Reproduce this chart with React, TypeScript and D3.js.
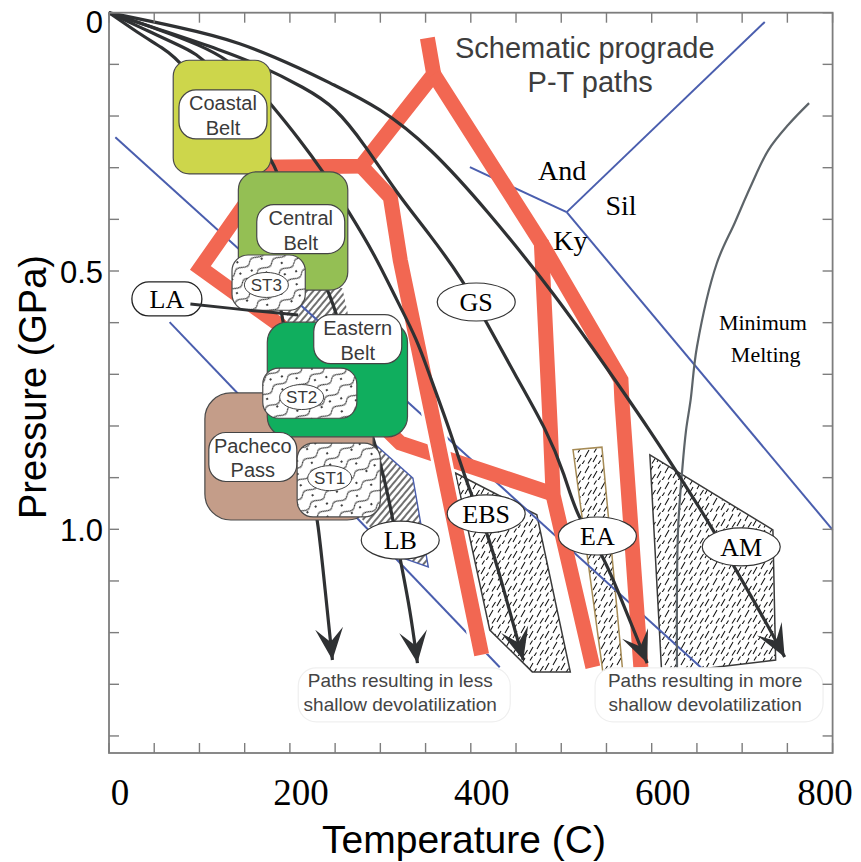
import React, { useEffect, useRef } from 'react';
import * as d3 from 'd3';

type Pt = [number, number]; // [temperature C, pressure GPa]

// axes
const tempTicks = [0, 50, 100, 150, 200, 250, 300, 350, 400, 450, 500, 550, 600, 650, 700, 750, 800];
const tempLabels = [0, 200, 400, 600, 800];
const presTicks = [0, 0.1, 0.2, 0.3, 0.4, 0.5, 0.6, 0.7, 0.8, 0.9, 1.0, 1.1, 1.2, 1.3, 1.4];
const presLabelValues = [0, 0.5, 1.0];
const presLabelText = ['0', '0.5', '1.0'];
const presMax = 1.433;

// geotherms, coldest to hottest (each ends in an arrow)
const geothermZ: Pt[] = [[0, 0], [32, 0.039], [59, 0.068], [81, 0.095], [134, 0.227], [165, 0.31], [178, 0.459], [190, 0.576], [193, 0.601], [211, 0.788], [224, 0.924], [231, 0.982], [239, 1.118], [247, 1.253]];
const geothermA: Pt[] = [[0, 0], [45, 0.037], [84, 0.068], [109, 0.092], [145, 0.188], [180, 0.285], [186, 0.308], [211, 0.421], [244, 0.543], [253, 0.591], [272, 0.711], [292, 0.821], [305, 0.905], [314, 0.982], [322, 1.059], [333, 1.156], [341, 1.259]];
const geothermB: Pt[] = [[0, 0], [56, 0.033], [101, 0.063], [132, 0.092], [156, 0.13], [179, 0.177], [211, 0.246], [237, 0.308], [264, 0.382], [294, 0.469], [318, 0.556], [341, 0.634], [355, 0.705], [377, 0.808], [399, 0.93], [419, 1.007], [438, 1.127], [458, 1.253]];
const geothermC: Pt[] = [[0, 0], [67, 0.039], [123, 0.072], [165, 0.1], [217, 0.146], [250, 0.182], [283, 0.256], [318, 0.349], [355, 0.43], [391, 0.517], [416, 0.595], [449, 0.701], [484, 0.808], [504, 0.895], [517, 0.976], [546, 1.046], [570, 1.152], [595, 1.259]];
const geothermD: Pt[] = [[0, 0], [78, 0.028], [143, 0.055], [217, 0.112], [244, 0.136], [300, 0.184], [355, 0.26], [418, 0.382], [495, 0.55], [548, 0.682], [598, 0.808], [642, 0.928], [668, 1.001], [690, 1.069], [720, 1.16], [747, 1.247]];

// schematic prograde P-T paths (red)
const redPath1: Pt[] = [[352, 0.049], [359, 0.119], [279, 0.297], [169, 0.299], [150, 0.372], [101, 0.494], [189, 0.605], [322, 0.833], [488, 0.93]];
const redPath2: Pt[] = [[279, 0.297], [311, 0.357], [322, 0.479], [412, 1.243]];
const redPath3: Pt[] = [[359, 0.119], [478, 0.446], [488, 0.808], [491, 0.934], [535, 1.267]];
const redPath4: Pt[] = [[478, 0.446], [566, 0.711], [567, 0.75], [588, 1.267]];

// blue reaction lines
const blueUpper: Pt[] = [[7, 0.241], [656, 1.27]];
const blueLower: Pt[] = [[67, 0.599], [432, 1.267]];
const andKy: Pt[] = [[399, 0.299], [506, 0.386]];
const andSil: Pt[] = [[506, 0.386], [725, 0.018]];
const kySil: Pt[] = [[506, 0.386], [800, 1.001]];

// minimum melting curve
const meltCurve: Pt[] = [[774, 0.175], [751, 0.217], [729, 0.266], [709, 0.338], [692, 0.406], [672, 0.485], [650, 0.647], [643, 0.75], [638, 0.808], [634, 0.88], [629, 1.007], [628, 1.276]];

// hatched facies fields
const lbField: Pt[] = [[195, 0.533], [258, 0.533], [295, 0.837], [336, 0.901], [344, 0.982], [353, 1.073], [322, 1.054], [272, 0.967], [206, 0.847]];
const lbOutline: Pt[] = [[295, 0.837], [336, 0.901], [344, 0.982], [353, 1.073], [322, 1.054]];
const ebsField: Pt[] = [[383, 0.891], [473, 0.972], [510, 1.276], [468, 1.276], [421, 1.195], [397, 1.001]];
const eaField: Pt[] = [[513, 0.846], [545, 0.841], [568, 1.276], [546, 1.276]];
const amField: Pt[] = [[598, 0.856], [734, 1.001], [737, 1.253], [661, 1.269], [611, 1.276]];

const fieldLabels = ['GS', 'LB', 'EBS', 'EA', 'AM'];
const fieldLabelPos: Pt[] = [[406, 0.56], [322, 1.021], [417, 0.97], [540, 1.013], [699, 1.034]];
const laPos: Pt = [64, 0.554];
const laLink: Pt[] = [[90, 0.564], [167, 0.578], [209, 0.585]];

// belts: [Tmin, Pmin, Tmax, Pmax]
const beltNames = [['Coastal', 'Belt'], ['Central', 'Belt'], ['Eastern', 'Belt'], ['Pacheco', 'Pass']];
const beltExtents = [[71, 0.092, 179, 0.312], [143, 0.308, 264, 0.537], [175, 0.599, 330, 0.821], [106, 0.736, 292, 0.982]];
const beltColors = ['#cdd64b', '#94bf54', '#10ae5e', '#c49d89'];
const beltRadius = [16, 18, 20, 26];
const beltLabelPos: Pt[] = [[126, 0.197], [212, 0.419], [275, 0.632], [159, 0.86]];

const stNames = ['ST3', 'ST2', 'ST1'];
const stExtents = [[136, 0.469, 217, 0.576], [170, 0.688, 274, 0.785], [208, 0.833, 300, 0.976]];
const stLabelPos: Pt[] = [[174, 0.527], [213, 0.744], [244, 0.901]];

// annotations
const titleLines = ['Schematic prograde', 'P-T paths'];
const titlePos: Pt[] = [[526, 0.088], [532, 0.154]];
const phaseNames = ['And', 'Sil', 'Ky'];
const phasePos: Pt[] = [[501, 0.324], [566, 0.392], [510, 0.459]];
const meltLines = ['Minimum', 'Melting'];
const meltPos: Pt[] = [[723, 0.614], [726, 0.676]];
const noteLines = [['Paths resulting in less', 'shallow devolatilization'], ['Paths resulting in more', 'shallow devolatilization']];
const notePos: Pt[] = [[322, 1.305], [659, 1.305]];
const noteWidths = [212, 228];

export default function App() {
  const ref = useRef<SVGSVGElement>(null);

  useEffect(() => {
    const svg = d3.select(ref.current);
    svg.selectAll('*').remove();

    const x = d3.scaleLinear().domain([0, 800]).range([109, 832.6]);
    const y = d3.scaleLinear().domain([0, presMax]).range([12.7, 753]);
    const line = d3.line<Pt>().x(d => x(d[0])).y(d => y(d[1]));
    const smooth = d3.line<Pt>().x(d => x(d[0])).y(d => y(d[1])).curve(d3.curveCatmullRom.alpha(0.5));
    const spline = d3.line<Pt>().x(d => x(d[0])).y(d => y(d[1])).curve(d3.curveBasis);

    const sans = '"Liberation Sans", Arial, Helvetica, sans-serif';
    const serif = '"Liberation Serif", "Times New Roman", serif';
    const ink = '#2f3133';
    const red = '#f26752';
    const blue = '#4a5eae';

    const defs = svg.append('defs');

    // short dash texture for facies fields
    const dash = defs.append('pattern').attr('id', 'dashHatch').attr('patternUnits', 'userSpaceOnUse')
      .attr('width', 16).attr('height', 16);
    dash.append('rect').attr('width', 16).attr('height', 16).attr('fill', '#fff');
    dash.append('path').attr('d', 'M1,14L5,7M9,9L13,2M6,16.5L8.5,12.5M12,15.5L15.5,10M2,4.5L4.5,0.5')
      .attr('stroke', '#111').attr('stroke-width', 1.05).attr('fill', 'none');

    // straight diagonal lines
    const hatch = defs.append('pattern').attr('id', 'lineHatch').attr('patternUnits', 'userSpaceOnUse')
      .attr('width', 5).attr('height', 10).attr('patternTransform', 'rotate(40)');
    hatch.append('rect').attr('width', 5).attr('height', 10).attr('fill', '#fff');
    hatch.append('line').attr('x1', 2).attr('x2', 2).attr('y1', 0).attr('y2', 10)
      .attr('stroke', '#111').attr('stroke-width', 1.2);

    // wavy + dotted texture for ST boxes
    const wavy = defs.append('pattern').attr('id', 'stHatch').attr('patternUnits', 'userSpaceOnUse')
      .attr('width', 36).attr('height', 26).attr('patternTransform', 'rotate(-35)');
    wavy.append('rect').attr('width', 36).attr('height', 26).attr('fill', '#fff');
    wavy.append('path').attr('d', 'M0,7C6,0 12,14 18,7S30,14 36,7M0,20C6,13 12,27 18,20S30,27 36,20')
      .attr('stroke', '#111').attr('stroke-width', 1).attr('fill', 'none');
    [[8, 13], [26, 12], [15, 2], [30, 24], [4, 24]].forEach(([cx, cy]) =>
      wavy.append('circle').attr('cx', cx).attr('cy', cy).attr('r', 1.1).attr('fill', '#111'));

    defs.append('marker').attr('id', 'arrowHead').attr('viewBox', '-34 -16 36 32')
      .attr('refX', 0).attr('refY', 0).attr('markerWidth', 36).attr('markerHeight', 32)
      .attr('markerUnits', 'userSpaceOnUse').attr('orient', 'auto')
      .append('path').attr('d', 'M0,0L-32,-14L-18,0L-32,14Z').attr('fill', ink);

    defs.append('clipPath').attr('id', 'lowerClip').append('rect')
      .attr('x', 0).attr('y', y(0.7)).attr('width', 861).attr('height', 862);

    svg.append('rect').attr('width', 861).attr('height', 862).attr('fill', '#fff');

    // hatched fields
    svg.append('path').attr('d', `${line(lbField)}Z`).attr('fill', 'url(#lineHatch)');
    svg.append('path').attr('d', line(lbOutline)).attr('fill', 'none').attr('stroke', blue).attr('stroke-width', 1.4);
    svg.append('path').attr('d', `${line(ebsField)}Z`).attr('fill', 'url(#dashHatch)').attr('stroke', '#3a3a3a').attr('stroke-width', 1.5);
    svg.append('path').attr('d', `${line(eaField)}Z`).attr('fill', 'url(#dashHatch)').attr('stroke', '#a68b55').attr('stroke-width', 1.5);
    svg.append('path').attr('d', `${line(amField)}Z`).attr('fill', 'url(#dashHatch)').attr('stroke', '#3a3a3a').attr('stroke-width', 1.5);

    // blue lines
    [blueUpper, blueLower, andKy, andSil, kySil].forEach(l =>
      svg.append('path').attr('d', line(l)).attr('fill', 'none').attr('stroke', blue).attr('stroke-width', 2));

    svg.append('path').attr('d', smooth(meltCurve)).attr('fill', 'none').attr('stroke', '#5d6469').attr('stroke-width', 2.2);

    // red P-T paths
    [redPath1, redPath3, redPath4].forEach(p =>
      svg.append('path').attr('d', line(p)).attr('fill', 'none').attr('stroke', red)
        .attr('stroke-width', 15).attr('stroke-linejoin', 'miter'));
    svg.append('path').attr('d', line(redPath2)).attr('fill', 'none').attr('stroke', '#fff')
      .attr('stroke-width', 21).attr('clip-path', 'url(#lowerClip)');
    svg.append('path').attr('d', line(redPath2)).attr('fill', 'none').attr('stroke', red)
      .attr('stroke-width', 15).attr('stroke-linejoin', 'miter');

    // geotherms
    [geothermZ, geothermA, geothermB, geothermC, geothermD].forEach(g =>
      svg.append('path').attr('d', spline(g)).attr('fill', 'none').attr('stroke', ink)
        .attr('stroke-width', 3.2).attr('marker-end', 'url(#arrowHead)'));

    // belts and ST boxes
    const box = (ext: number[], fill: string, r: number) =>
      svg.append('rect').attr('x', x(ext[0])).attr('y', y(ext[1]))
        .attr('width', x(ext[2]) - x(ext[0])).attr('height', y(ext[3]) - y(ext[1]))
        .attr('rx', r).attr('fill', fill).attr('stroke', '#4a4a4a').attr('stroke-width', 1.2);

    const beltBox = (i: number) => box(beltExtents[i], beltColors[i], beltRadius[i]);
    const beltLabel = (i: number) => {
      const cx = x(beltLabelPos[i][0]);
      const cy = y(beltLabelPos[i][1]);
      svg.append('rect').attr('x', cx - 44).attr('y', cy - 24.5).attr('width', 88).attr('height', 49)
        .attr('rx', 17).attr('fill', '#fff').attr('stroke', '#444').attr('stroke-width', 1.2);
      beltNames[i].forEach((t, k) =>
        svg.append('text').attr('x', cx).attr('y', cy - 4 + k * 24.5).attr('text-anchor', 'middle')
          .attr('font-family', sans).attr('font-size', 20).attr('fill', '#3a3a3a').text(t));
    };
    const stBox = (i: number) => {
      box(stExtents[i], 'url(#stHatch)', 16);
      const cx = x(stLabelPos[i][0]);
      const cy = y(stLabelPos[i][1]);
      svg.append('ellipse').attr('cx', cx).attr('cy', cy).attr('rx', 22).attr('ry', 12.5)
        .attr('fill', '#fff').attr('stroke', '#444').attr('stroke-width', 1);
      svg.append('text').attr('x', cx).attr('y', cy + 6).attr('text-anchor', 'middle')
        .attr('font-family', sans).attr('font-size', 17).attr('fill', '#3a3a3a').text(stNames[i]);
    };

    beltBox(0); beltLabel(0);
    beltBox(1); beltLabel(1);
    stBox(0);
    beltBox(3);
    beltBox(2); beltLabel(2);
    beltLabel(3);
    stBox(1);
    stBox(2);

    // LA label and link
    const lax = x(laPos[0]);
    const lay = y(laPos[1]);
    svg.append('rect').attr('x', lax - 35).attr('y', lay - 17).attr('width', 70).attr('height', 34)
      .attr('rx', 17).attr('fill', '#fff').attr('stroke', '#222').attr('stroke-width', 1.3);
    svg.append('text').attr('x', lax).attr('y', lay + 9).attr('text-anchor', 'middle')
      .attr('font-family', serif).attr('font-size', 26).text('LA');
    svg.append('path').attr('d', smooth(laLink)).attr('fill', 'none').attr('stroke', ink).attr('stroke-width', 3);

    // facies labels
    fieldLabels.forEach((name, i) => {
      const cx = x(fieldLabelPos[i][0]);
      const cy = y(fieldLabelPos[i][1]);
      svg.append('ellipse').attr('cx', cx).attr('cy', cy).attr('rx', 39).attr('ry', 19)
        .attr('fill', '#fff').attr('stroke', '#333').attr('stroke-width', 1.2);
      svg.append('text').attr('x', cx).attr('y', cy + 9).attr('text-anchor', 'middle')
        .attr('font-family', serif).attr('font-size', 26).text(name);
    });

    // annotations
    titleLines.forEach((t, i) =>
      svg.append('text').attr('x', x(titlePos[i][0])).attr('y', y(titlePos[i][1])).attr('text-anchor', 'middle')
        .attr('font-family', sans).attr('font-size', 29).attr('fill', '#3d3d3d').text(t));
    phaseNames.forEach((t, i) =>
      svg.append('text').attr('x', x(phasePos[i][0])).attr('y', y(phasePos[i][1])).attr('text-anchor', 'middle')
        .attr('font-family', serif).attr('font-size', 28).text(t));
    meltLines.forEach((t, i) =>
      svg.append('text').attr('x', x(meltPos[i][0])).attr('y', y(meltPos[i][1])).attr('text-anchor', 'middle')
        .attr('font-family', serif).attr('font-size', 22).text(t));

    noteLines.forEach((lines, i) => {
      const cx = x(notePos[i][0]);
      const cy = y(notePos[i][1]);
      svg.append('rect').attr('x', cx + 4 - noteWidths[i] / 2).attr('y', cy - 19).attr('width', noteWidths[i])
        .attr('height', 54).attr('rx', 18).attr('fill', '#fff').attr('stroke', '#efefef').attr('stroke-width', 1.2);
      lines.forEach((t, k) =>
        svg.append('text').attr('x', cx).attr('y', cy + k * 24).attr('text-anchor', 'middle')
          .attr('font-family', sans).attr('font-size', 19).attr('fill', '#444').text(t));
    });

    // frame, ticks, labels
    const frame = '#7d7d7d';
    svg.append('rect').attr('x', x(0)).attr('y', y(0)).attr('width', x(800) - x(0)).attr('height', y(presMax) - y(0))
      .attr('fill', 'none').attr('stroke', frame).attr('stroke-width', 1.8);
    tempTicks.forEach(t => {
      svg.append('line').attr('x1', x(t)).attr('x2', x(t)).attr('y1', y(presMax)).attr('y2', y(presMax) - 10)
        .attr('stroke', frame).attr('stroke-width', 1.4);
      svg.append('line').attr('x1', x(t)).attr('x2', x(t)).attr('y1', y(0)).attr('y2', y(0) + 10)
        .attr('stroke', frame).attr('stroke-width', 1.4);
    });
    presTicks.forEach(p => {
      svg.append('line').attr('x1', x(0)).attr('x2', x(0) + 10).attr('y1', y(p)).attr('y2', y(p))
        .attr('stroke', frame).attr('stroke-width', 1.4);
      svg.append('line').attr('x1', x(800)).attr('x2', x(800) - 10).attr('y1', y(p)).attr('y2', y(p))
        .attr('stroke', frame).attr('stroke-width', 1.4);
    });
    tempLabels.forEach(t =>
      svg.append('text').attr('x', Math.min(x(t) + 11, 825)).attr('y', 805).attr('text-anchor', 'middle')
        .attr('font-family', serif).attr('font-size', 37).text(t));
    presLabelValues.forEach((p, i) =>
      svg.append('text').attr('x', 103).attr('y', Math.max(y(p) + 12, 33)).attr('text-anchor', 'end')
        .attr('font-family', sans).attr('font-size', 31).text(presLabelText[i]));

    svg.append('text').attr('x', 464).attr('y', 853).attr('text-anchor', 'middle')
      .attr('font-family', sans).attr('font-size', 39).text('Temperature (C)');
    svg.append('text').attr('transform', 'translate(46,387) rotate(-90)').attr('text-anchor', 'middle')
      .attr('font-family', sans).attr('font-size', 38).text('Pressure (GPa)');
  }, []);

  return (
    <svg ref={ref} width={861} height={862}
      style={{ position: 'absolute', left: 0, top: 0, background: '#fff' }} />
  );
}
